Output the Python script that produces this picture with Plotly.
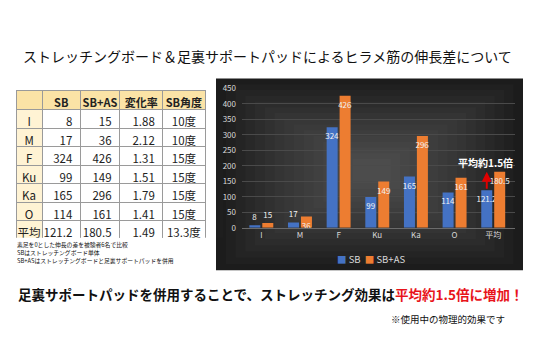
import plotly.graph_objects as go

# ---- data ----
categories = ["I", "M", "F", "Ku", "Ka", "O", "平均"]
sb = [8, 17, 324, 99, 165, 114, 121.2]
sb_as = [15, 36, 426, 149, 296, 161, 180.5]
ratio = [1.88, 2.12, 1.31, 1.51, 1.79, 1.41, 1.49]
sb_angle = ["10度", "10度", "15度", "15度", "15度", "15度", "13.3度"]
table_header = ["", "SB", "SB+AS", "変化率", "SB角度"]
y_ticks = [0, 50, 100, 150, 200, 250, 300, 350, 400, 450]
notes = [
    "素足を0とした伸長の差を被験者6名で比較",
    "SBはストレッチングボード単体",
    "SB+ASはストレッチングボードと足裏サポートパッドを併用",
]

W, H = 536, 346
FONT = "Noto Sans CJK JP"
BLUE = "#4472C4"
ORANGE = "#ED7D31"


def px_x(p):
    return p / W


def px_y(p):
    return 1 - p / H


fig = go.Figure()

# ---- summary table ----
fig.add_trace(go.Table(
    domain=dict(x=[px_x(16), px_x(205)], y=[px_y(240), px_y(87.5)]),
    columnwidth=[26, 38, 39, 43, 42],
    header=dict(
        values=table_header,
        fill_color="#FBE3A6",
        line=dict(color="#9a9a9a", width=1),
        align="center",
        height=19,
        font=dict(family=FONT, size=11, color="#222222", weight="bold"),
    ),
    cells=dict(
        values=[
            categories,
            [str(v) for v in sb],
            [str(v) for v in sb_as],
            [f"{v:.2f}" for v in ratio],
            sb_angle,
        ],
        fill_color=["#FFF3D4", "white", "white", "white", "white"],
        line=dict(color="#9a9a9a", width=1),
        align=["center", "right", "right", "right", "center"],
        height=18.5,
        font=dict(family=FONT, size=11.5, color="#222222"),
    ),
))

# ---- bar chart ----
small = 20


def positions(vals):
    return ["outside" if v < small else "inside" for v in vals]


for name, vals, color in (("SB", sb, BLUE), ("SB+AS", sb_as, ORANGE)):
    fig.add_trace(go.Bar(
        x=categories, y=vals, name=name, showlegend=False,
        marker=dict(color=color, line=dict(width=0)),
        text=[str(v) for v in vals], textposition=positions(vals),
        textangle=0, insidetextanchor="end", constraintext="none",
        cliponaxis=False,
        textfont=dict(family=FONT, size=8, color="#f2f2f2"),
    ))

shapes = []
# dark chart panel with a soft lighter centre
x0, x1, y0, y1 = 216, 523, 75, 273
shapes.append(dict(type="rect", xref="paper", yref="paper", layer="below",
                   x0=px_x(x0), x1=px_x(x1), y0=px_y(y1), y1=px_y(y0),
                   fillcolor="#1c1c1c", line=dict(width=0)))
steps = 14
cx, cy = 372, 170
for i in range(1, steps + 1):
    f = i / (steps + 2)
    ax0 = x0 + (cx - x0) * f
    ax1 = x1 - (x1 - cx) * f
    ay0 = y0 + (cy - y0) * f
    ay1 = y1 - (y1 - cy) * f
    shapes.append(dict(type="rect", xref="paper", yref="paper", layer="below",
                       x0=px_x(ax0), x1=px_x(ax1), y0=px_y(ay1), y1=px_y(ay0),
                       fillcolor="rgba(255,255,255,0.02)", line=dict(width=0)))

annotations = [
    dict(text="ストレッチングボード＆足裏サポートパッドによるヒラメ筋の伸長差について",
         xref="paper", yref="paper", x=px_x(267), y=px_y(52), showarrow=False,
         xanchor="center", yanchor="middle",
         font=dict(family=FONT, size=14, color="#111111")),
    dict(text="<b>足裏サポートパッドを併用することで、ストレッチング効果は"
              "<span style='color:#E8141B'>平均約1.5倍に増加！</span></b>",
         xref="paper", yref="paper", x=px_x(270), y=px_y(297), showarrow=False,
         xanchor="center", yanchor="middle",
         font=dict(family=FONT, size=13.5, color="#111111")),
    dict(text="※使用中の物理的効果です",
         xref="paper", yref="paper", x=px_x(507), y=px_y(323), showarrow=False,
         xanchor="right", yanchor="middle",
         font=dict(family=FONT, size=9.5, color="#111111")),
    # legend for the two series
    dict(text=f"<span style='color:{BLUE}'>■</span> SB  "
              f"<span style='color:{ORANGE}'>■</span> SB+AS",
         xref="paper", yref="paper", x=px_x(371), y=px_y(261), showarrow=False,
         xanchor="center", yanchor="middle",
         font=dict(family=FONT, size=9.5, color="#d9d9d9")),
    # average increase arrow and label
    dict(text="", x=6 - 0.1675, y=sb_as[-1], ax=6 - 0.1675, ay=sb[-1],
         xref="x", yref="y", axref="x", ayref="y", showarrow=True,
         arrowhead=2, arrowsize=1, arrowwidth=2, arrowcolor="#E00000"),
    dict(text="<b>平均約1.5倍</b>", x=6 - 0.2, y=212, xref="x", yref="y",
         showarrow=False, xanchor="center", yanchor="middle",
         font=dict(family=FONT, size=10, color="#ffffff")),
]

# footnotes under the table
for i, line in enumerate(notes):
    annotations.append(dict(
        text=line, xref="paper", yref="paper", x=px_x(16), y=px_y(246.5 + 8.4 * i),
        showarrow=False, xanchor="left", yanchor="middle", align="left",
        borderpad=0,
        font=dict(family=FONT, size=5.8, color="#111111")))

fig.update_layout(
    width=W, height=H,
    margin=dict(l=0, r=0, t=0, b=0),
    paper_bgcolor="white",
    plot_bgcolor="rgba(0,0,0,0)",
    barmode="group",
    bargap=0.33,
    bargroupgap=0.15,
    shapes=shapes,
    annotations=annotations,
    showlegend=False,
    xaxis=dict(domain=[px_x(242), px_x(515)], showgrid=False,
               tickfont=dict(family=FONT, size=8, color="#d9d9d9"),
               showline=True, linecolor="#6b6b6b", linewidth=1, ticks=""),
    yaxis=dict(domain=[px_y(229), px_y(85)], range=[0, 450], tickvals=y_ticks,
               showgrid=True, gridcolor="#4a4a4a", gridwidth=1, zeroline=False,
               ticklabelstandoff=5,
               tickfont=dict(family=FONT, size=8, color="#d9d9d9"), ticks=""),
)

fig.write_html("out.html")
